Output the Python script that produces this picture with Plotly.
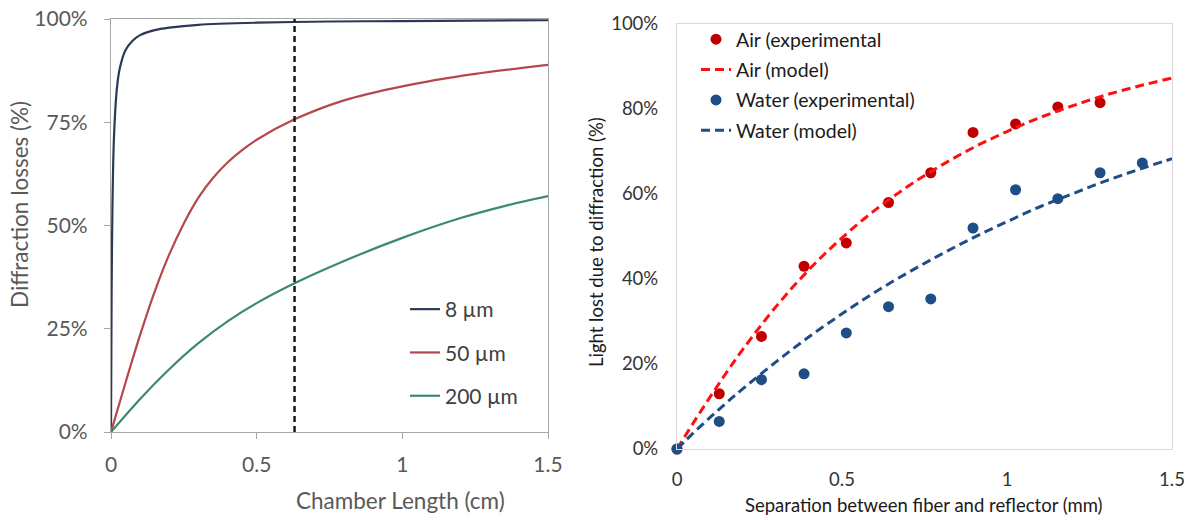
import plotly.graph_objects as go

# ---------------- Left panel: diffraction losses vs chamber length ----------------
chamber_x_8 = [0, 0.002, 0.005, 0.01, 0.02, 0.03, 0.05, 0.075, 0.1, 0.15, 0.2, 0.3, 0.5, 0.75, 1.0, 1.25, 1.5]
loss_8um = [0, 0.33, 0.55, 0.71, 0.83, 0.88, 0.925, 0.948, 0.961, 0.973, 0.979, 0.986, 0.991, 0.994, 0.995, 0.996, 0.997]

chamber_x_50 = [0, 0.05, 0.1, 0.15, 0.2, 0.25, 0.3, 0.35, 0.4, 0.45, 0.5, 0.63, 0.8, 1.0, 1.25, 1.5]
loss_50um = [0, 0.12, 0.235, 0.34, 0.43, 0.505, 0.5675, 0.615, 0.6525, 0.6825, 0.7075, 0.757, 0.803, 0.837, 0.867, 0.889]

chamber_x_200 = [0, 0.1, 0.2, 0.3, 0.4, 0.5, 0.63, 0.8, 1.0, 1.2, 1.35, 1.5]
loss_200um = [0, 0.08, 0.152, 0.215, 0.268, 0.312, 0.36, 0.414, 0.47, 0.518, 0.547, 0.571]

left_names = ["8 µm", "50 µm", "200 µm"]
chamber_mark = 0.63
left_xticks = [0, 0.5, 1, 1.5]
left_xticktext = ["0", "0.5", "1", "1.5"]
left_yticks = [0, 0.25, 0.5, 0.75, 1.0]
left_yticktext = ["0%", "25%", "50%", "75%", "100%"]

# ---------------- Right panel: light lost vs separation ----------------
sep_exp = [0, 0.128, 0.256, 0.385, 0.513, 0.641, 0.769, 0.897, 1.026, 1.154, 1.282, 1.41]
air_exp = [0, 0.13, 0.265, 0.43, 0.485, 0.58, 0.65, 0.745, 0.765, 0.805, 0.815]
water_exp = [0, 0.065, 0.163, 0.177, 0.273, 0.335, 0.353, 0.52, 0.61, 0.589, 0.65, 0.673]

sep_model = [0, 0.05, 0.1, 0.15, 0.2, 0.3, 0.4, 0.5, 0.6, 0.7, 0.8, 0.9, 1.0, 1.1, 1.2, 1.3, 1.4, 1.5]
air_model = [0, 0.062, 0.122, 0.18, 0.235, 0.335, 0.422, 0.497, 0.562, 0.618, 0.667, 0.71, 0.747, 0.78, 0.808, 0.833, 0.854, 0.873]
water_model = [0, 0.038, 0.074, 0.109, 0.142, 0.205, 0.264, 0.318, 0.369, 0.415, 0.458, 0.498, 0.535, 0.570, 0.601, 0.631, 0.658, 0.683]

right_names = ["Air (experimental", "Air (model)", "Water (experimental)", "Water (model)"]
right_xticks = [0, 0.5, 1, 1.5]
right_xticktext = ["0", "0.5", "1", "1.5"]
right_yticks = [0, 0.2, 0.4, 0.6, 0.8, 1.0]
right_yticktext = ["0%", "20%", "40%", "60%", "80%", "100%"]

FONT = "Lato"
W, H = 1191, 520

fig = go.Figure()

left_series = [
    (chamber_x_8, loss_8um, "#2D3954"),
    (chamber_x_50, loss_50um, "#B4484C"),
    (chamber_x_200, loss_200um, "#3C8A6B"),
]
for i, (xs, ys, col) in enumerate(left_series):
    fig.add_trace(go.Scatter(
        x=xs, y=ys, mode="lines", name=left_names[i],
        line=dict(color=col, width=2.2, shape="spline", smoothing=0.8),
        xaxis="x", yaxis="y", legend="legend", legendgroup=f"l{i}",
    ))

AIR_RED = "#C00000"
MODEL_RED = "#FF1010"
WATER_BLUE = "#1F4E86"

# right panel: legend order follows trace order (grouped)
fig.add_trace(go.Scatter(
    x=sep_exp[:len(air_exp)], y=air_exp, mode="markers", name=right_names[0],
    marker=dict(color=AIR_RED, size=11), cliponaxis=False,
    xaxis="x2", yaxis="y2", legend="legend2", legendgroup="r1",
))
fig.add_trace(go.Scatter(
    x=sep_model, y=air_model, mode="lines", name=right_names[1],
    line=dict(color=MODEL_RED, width=3, dash="9px,5px", shape="spline"),
    xaxis="x2", yaxis="y2", legend="legend2", legendgroup="r2",
))
fig.add_trace(go.Scatter(
    x=sep_exp, y=water_exp, mode="markers", name=right_names[2],
    marker=dict(color=WATER_BLUE, size=11), cliponaxis=False,
    xaxis="x2", yaxis="y2", legend="legend2", legendgroup="r3",
))
fig.add_trace(go.Scatter(
    x=sep_model, y=water_model, mode="lines", name=right_names[3],
    line=dict(color=WATER_BLUE, width=3, dash="9px,5px", shape="spline"),
    xaxis="x2", yaxis="y2", legend="legend2", legendgroup="r4",
))

fig.add_shape(type="line", xref="x", yref="y", x0=chamber_mark, x1=chamber_mark, y0=0, y1=1,
              line=dict(color="#1A1A1A", width=2.5, dash="6px,4px"))

left_axis_common = dict(showgrid=False, zeroline=False, showline=True, mirror=True, automargin=False,
                        linecolor="#A6A6A6", linewidth=1.2, ticks="outside", ticklen=6,
                        tickcolor="#A6A6A6", tickfont=dict(family=FONT, size=21, color="#595959"))
right_axis_common = dict(showgrid=False, zeroline=False, showline=True, mirror=True, automargin=False,
                         linecolor="#D9D9D9", linewidth=1.2, ticks="",
                         tickfont=dict(family=FONT, size=18.5, color="#333333"))

fig.update_layout(
    width=W, height=H,
    margin=dict(l=0, r=0, t=0, b=0, autoexpand=False),
    paper_bgcolor="white", plot_bgcolor="white",
    font=dict(family=FONT),
    xaxis=dict(domain=[111 / W, 548 / W], range=[0, 1.5], tickvals=left_xticks, ticktext=left_xticktext,
               anchor="y", ticklabelstandoff=8, **left_axis_common),
    yaxis=dict(domain=[1 - 432 / H, 1 - 19 / H], range=[0, 1], tickvals=left_yticks, ticktext=left_yticktext,
               anchor="x", ticklabelstandoff=12, **left_axis_common),
    xaxis2=dict(domain=[677 / W, 1172 / W], range=[0, 1.5], tickvals=right_xticks, ticktext=right_xticktext,
                anchor="y2", ticklabelstandoff=14, **right_axis_common),
    yaxis2=dict(domain=[1 - 449 / H, 1 - 24 / H], range=[0, 1], tickvals=right_yticks, ticktext=right_yticktext,
                anchor="x2", ticklabelstandoff=14, **right_axis_common),
    legend=dict(x=405 / W, y=1 - 289 / H, xanchor="left", yanchor="top", bgcolor="rgba(0,0,0,0)",
                font=dict(family=FONT, size=21, color="#404040"), tracegroupgap=13, traceorder="grouped"),
    legend2=dict(x=696 / W, y=1 - 20 / H, xanchor="left", yanchor="top", bgcolor="rgba(0,0,0,0)",
                 font=dict(family=FONT, size=19.5, color="#1A1A1A"), tracegroupgap=2, traceorder="grouped"),
    showlegend=True,
)

fig.add_annotation(text="Diffraction losses (%)", x=20 / W, y=1 - 205 / H, xref="paper", yref="paper",
                   textangle=-90, showarrow=False, xanchor="center", yanchor="middle",
                   font=dict(family=FONT, size=22.5, color="#595959"))
fig.add_annotation(text="Chamber Length (cm)", x=400 / W, y=1 - 500 / H, xref="paper", yref="paper",
                   showarrow=False, xanchor="center", yanchor="middle",
                   font=dict(family=FONT, size=22.5, color="#595959"))
fig.add_annotation(text="Light lost due to diffraction (%)", x=596 / W, y=1 - 242 / H, xref="paper", yref="paper",
                   textangle=-90, showarrow=False, xanchor="center", yanchor="middle",
                   font=dict(family=FONT, size=18.5, color="#1A1A1A"))
fig.add_annotation(text="Separation between fiber and reflector (mm)", x=924 / W, y=1 - 505 / H,
                   xref="paper", yref="paper", showarrow=False, xanchor="center", yanchor="middle",
                   font=dict(family=FONT, size=18.5, color="#1A1A1A"))

fig.write_html("out.html")
